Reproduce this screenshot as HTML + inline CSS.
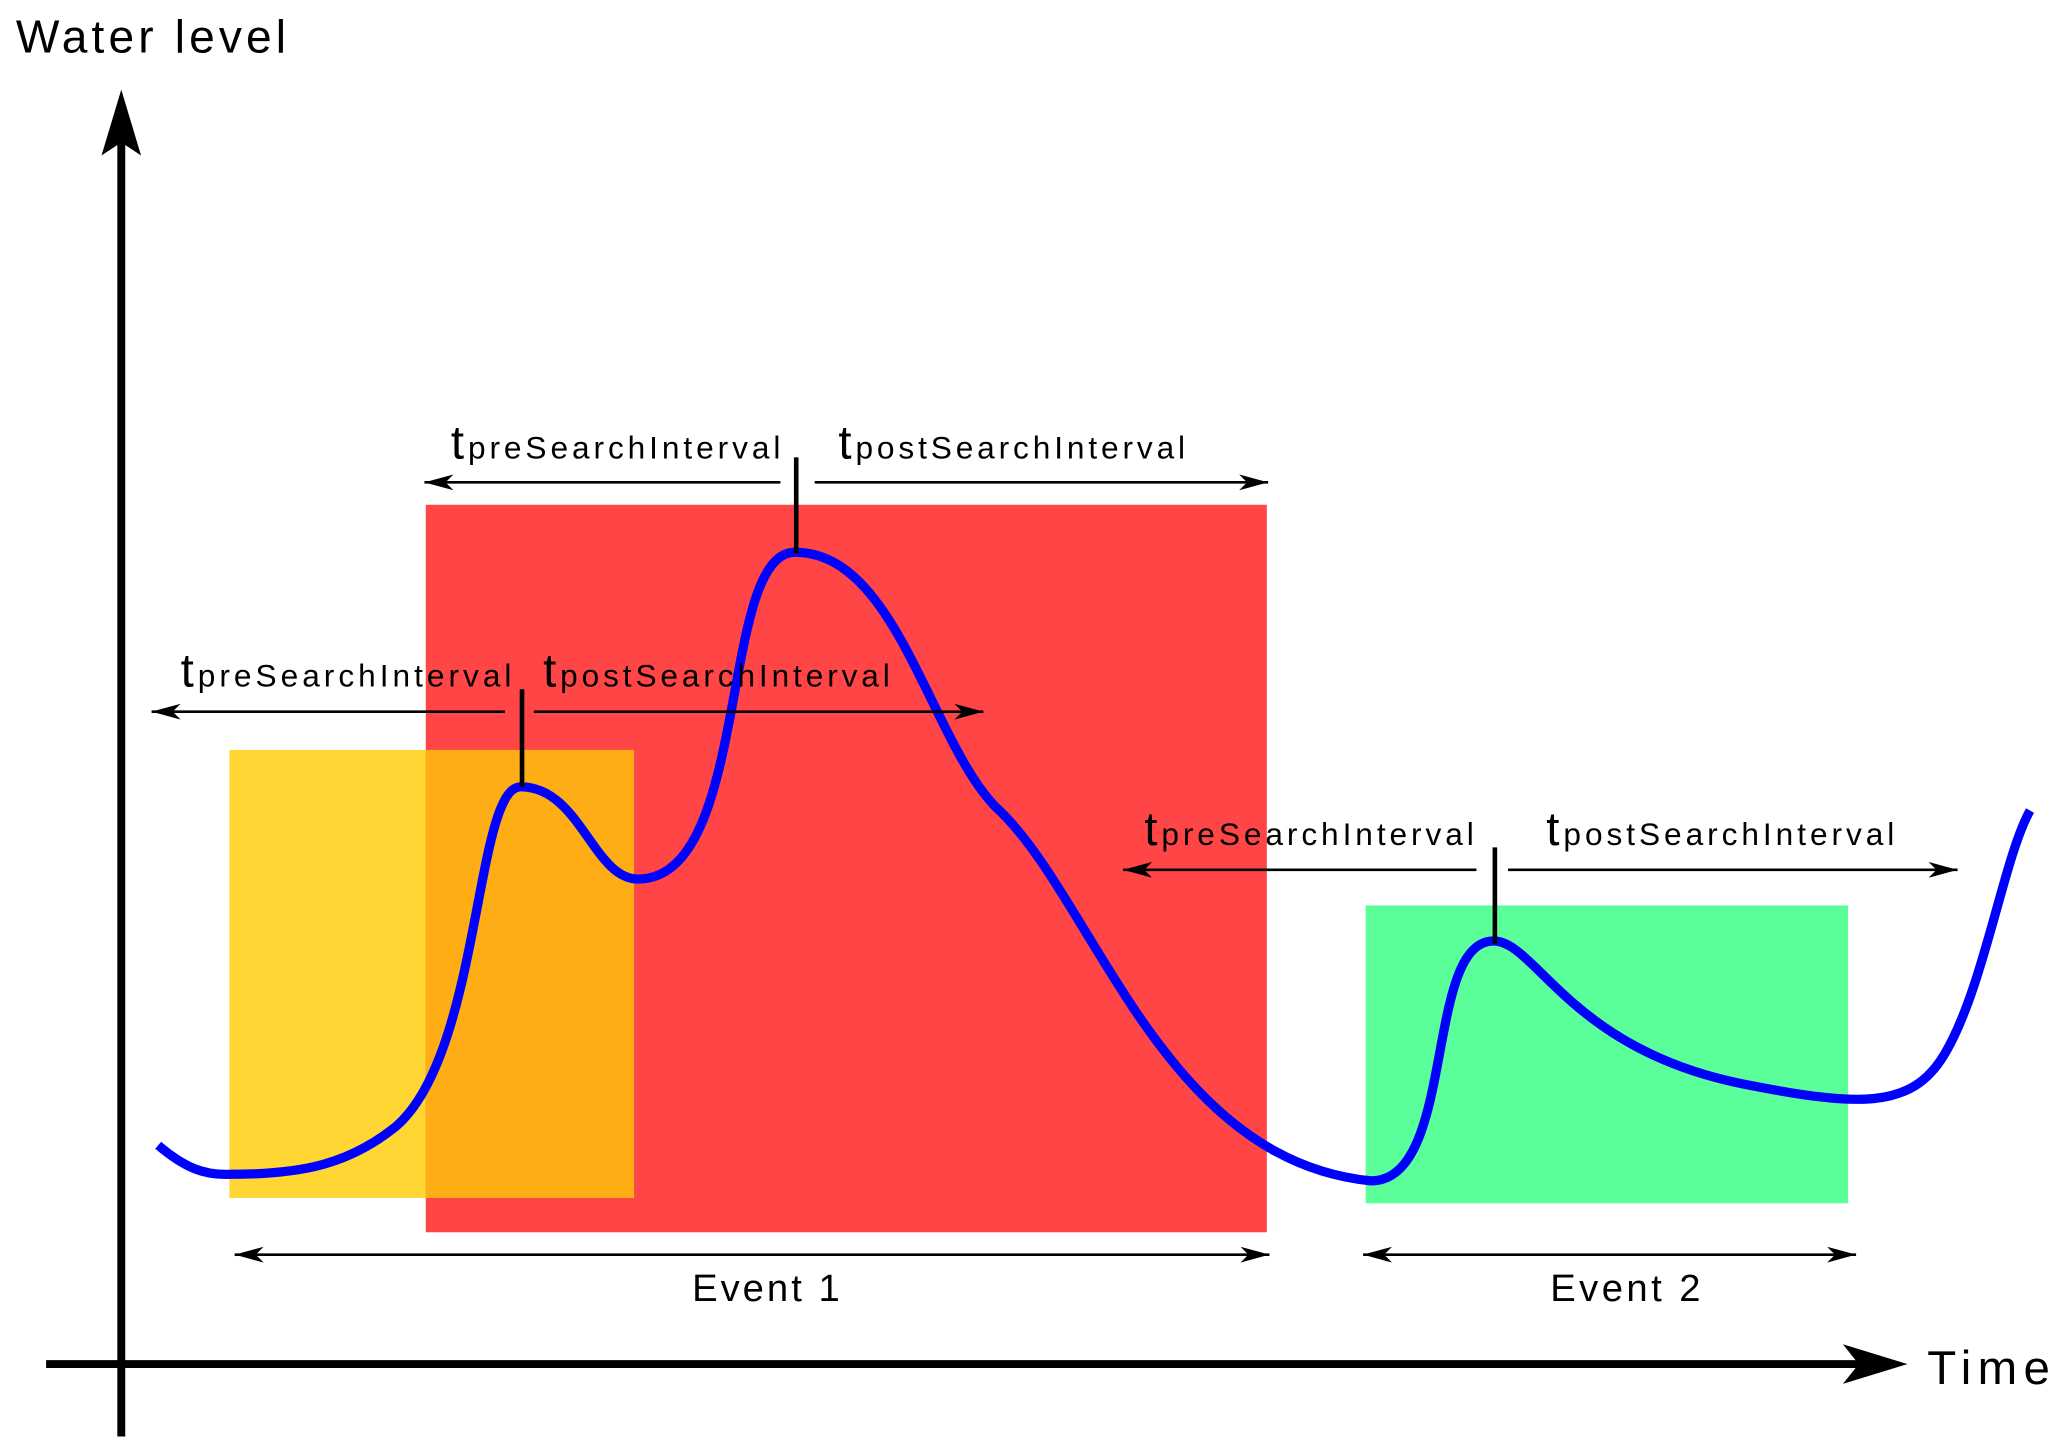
<!DOCTYPE html>
<html><head><meta charset="utf-8"><style>
html,body{margin:0;padding:0;background:#fff;}
svg{display:block;}
text{font-family:"Liberation Sans",sans-serif;fill:#000;}
</style></head><body>
<svg width="2067" height="1455" viewBox="0 0 1568 1104" preserveAspectRatio="none" xmlns="http://www.w3.org/2000/svg">
<defs>
<marker id="a" markerWidth="24" markerHeight="12" refX="22" refY="6" orient="auto-start-reverse" markerUnits="userSpaceOnUse">
<path d="M0,0 L22,6 L0,12 L6,6 Z" fill="#000"/>
</marker>
</defs>
<rect x="174" y="569" width="307" height="340" fill="#FFD633"/>
<rect x="323" y="383" width="638" height="552" fill="#FF4545"/>
<rect x="323" y="569" width="158" height="340" fill="#FFAD14"/>
<rect x="1036" y="687" width="366" height="226" fill="#5BFF99"/>
<path d="M120,869 C140,886 155,892 175,891 C230,891 265,883 300,855 C365,800 360,597 395,597 C440,597 450,667 484,667 C570,667 545,419 603,419 C680,419 705,560 755,612 C830,680 880,880 1040,896 C1105,896 1080,714 1133,714 C1165,714 1190,795 1320,822 C1410,840 1450,842 1475,800 C1505,750 1520,650 1540,615" fill="none" stroke="#0000FF" stroke-width="7"/>
<g stroke="#000" stroke-width="2" fill="none">
<line x1="592" y1="366" x2="322" y2="366" marker-end="url(#a)"/>
<line x1="618" y1="366" x2="962" y2="366" marker-end="url(#a)"/>
<line x1="383" y1="540" x2="115" y2="540" marker-end="url(#a)"/>
<line x1="405" y1="540" x2="746" y2="540" marker-end="url(#a)"/>
<line x1="1120" y1="660" x2="852" y2="660" marker-end="url(#a)"/>
<line x1="1144" y1="660" x2="1485" y2="660" marker-end="url(#a)"/>
<line x1="178" y1="952" x2="963" y2="952" marker-start="url(#a)" marker-end="url(#a)"/>
<line x1="1034" y1="952" x2="1408" y2="952" marker-start="url(#a)" marker-end="url(#a)"/>
</g>
<g stroke="#000" stroke-width="3.5">
<line x1="604" y1="347" x2="604" y2="420"/>
<line x1="396" y1="523" x2="396" y2="597"/>
<line x1="1134" y1="643" x2="1134" y2="716"/>
</g>
<line x1="92" y1="1090" x2="92" y2="100" stroke="#000" stroke-width="6"/>
<path d="M92,68 L107,118 L92,108 L77,118 Z" fill="#000"/>
<line x1="35" y1="1035" x2="1420" y2="1035" stroke="#000" stroke-width="6"/>
<path d="M1447,1035 L1398,1020 L1410,1035 L1398,1050 Z" fill="#000"/>
<text x="12" y="40" font-size="35" textLength="205" lengthAdjust="spacing">Water level</text>
<text x="1462" y="1050" font-size="36" textLength="93" lengthAdjust="spacing">Time</text>
<text x="342" y="348" font-size="36" textLength="250" lengthAdjust="spacing">t<tspan font-size="24">preSearchInterval</tspan></text>
<text x="636" y="348" font-size="36" textLength="263" lengthAdjust="spacing">t<tspan font-size="24">postSearchInterval</tspan></text>
<text x="137" y="521" font-size="36" textLength="251" lengthAdjust="spacing">t<tspan font-size="24">preSearchInterval</tspan></text>
<text x="412" y="521" font-size="36" textLength="263" lengthAdjust="spacing">t<tspan font-size="24">postSearchInterval</tspan></text>
<text x="868" y="641" font-size="36" textLength="250" lengthAdjust="spacing">t<tspan font-size="24">preSearchInterval</tspan></text>
<text x="1173" y="641" font-size="36" textLength="264" lengthAdjust="spacing">t<tspan font-size="24">postSearchInterval</tspan></text>
<text x="525" y="987" font-size="29" textLength="112" lengthAdjust="spacing">Event 1</text>
<text x="1176" y="987" font-size="29" textLength="114" lengthAdjust="spacing">Event 2</text>
</svg>
</body></html>
